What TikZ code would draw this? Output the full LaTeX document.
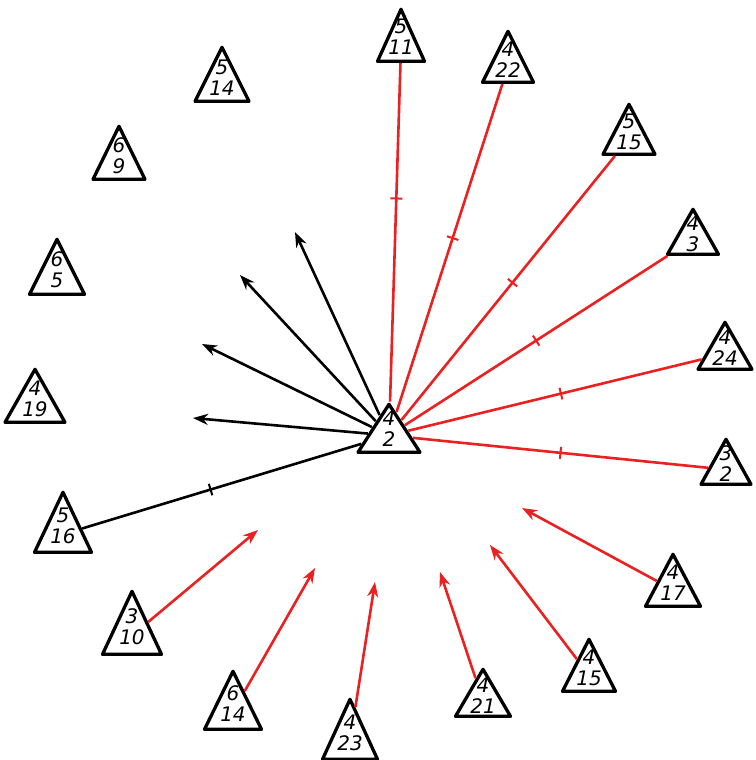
\documentclass[tikz,border=0pt]{standalone}
\usepackage{fontspec}
\usepackage{tikz}
\usetikzlibrary{shapes.geometric,arrows.meta,calc}
\newfontfamily\handfont{DejaVu Sans}
\definecolor{pen}{RGB}{235,32,32}
\tikzset{
 tri/.style 2 args={draw=black, line width=3.3pt, isosceles triangle, isosceles triangle stretches,
   shape border rotate=90, minimum width=#1, minimum height=#2, inner sep=0pt, line join=round, anchor=apex},
 num/.style={font=\handfont\itshape\fontsize{20}{21}\selectfont, align=center, inner sep=0pt},
 redline/.style={draw=pen, line width=2.6pt},
 blackline/.style={draw=black, line width=2.6pt},
 tip/.style={-{Stealth[length=15pt,width=11pt]}},
 redtick/.style={draw=pen, inner sep=0pt, minimum width=0pt, minimum height=12pt, line width=2pt},
 blacktick/.style={draw=black, inner sep=0pt, minimum width=0pt, minimum height=12pt, line width=2pt},
}
\begin{document}
\begin{tikzpicture}[x=1pt,y=-1pt]
\useasboundingbox (0,0) rectangle (755,760);
% triangles (apex positions)
\node[tri={62pt}{48pt}] (c42) at (389,400) {};
\node[tri={47pt}{52pt}] (t511) at (401,5) {};
\node[tri={51pt}{51pt}] (t422) at (508,27) {};
\node[tri={52pt}{50pt}] (t515) at (629,100) {};
\node[tri={51pt}{45pt}] (t43) at (693,205) {};
\node[tri={54pt}{47pt}] (t424) at (725,318) {};
\node[tri={50pt}{45pt}] (t32) at (726,435) {};
\node[tri={55pt}{52pt}] (t417) at (673,550) {};
\node[tri={53pt}{52pt}] (t415) at (589,635) {};
\node[tri={55pt}{47pt}] (t421) at (483,665) {};
\node[tri={55pt}{60pt}] (t423) at (350,695) {};
\node[tri={57pt}{58pt}] (t614) at (233,667) {};
\node[tri={59pt}{63pt}] (t310) at (132,587) {};
\node[tri={57pt}{60pt}] (t516) at (63,488) {};
\node[tri={60pt}{53pt}] (t419) at (35,365) {};
\node[tri={55pt}{55pt}] (t65) at (57,235) {};
\node[tri={52pt}{53pt}] (t69) at (119,122) {};
\node[tri={54pt}{54pt}] (t514) at (222,43) {};
% labels
\node[num] (lc42) at ($(c42.apex)+(0,29)$) {4\\2};
\node[num] (l511) at ($(t511.apex)+(0,32)$) {5\\11};
\node[num] (l422) at ($(t422.apex)+(0,33)$) {4\\22};
\node[num] (l515) at ($(t515.apex)+(0,32)$) {5\\15};
\node[num] (l43) at ($(t43.apex)+(0,29)$) {4\\3};
\node[num] (l424) at ($(t424.apex)+(0,30)$) {4\\24};
\node[num] (l32) at ($(t32.apex)+(0,29)$) {3\\2};
\node[num] (l417) at ($(t417.apex)+(0,33)$) {4\\17};
\node[num] (l415) at ($(t415.apex)+(0,33)$) {4\\15};
\node[num] (l421) at ($(t421.apex)+(0,31)$) {4\\21};
\node[num] (l423) at ($(t423.apex)+(0,38)$) {4\\23};
\node[num] (l614) at ($(t614.apex)+(0,37)$) {6\\14};
\node[num] (l310) at ($(t310.apex)+(0,40)$) {3\\10};
\node[num] (l516) at ($(t516.apex)+(0,38)$) {5\\16};
\node[num] (l419) at ($(t419.apex)+(0,34)$) {4\\19};
\node[num] (l65) at ($(t65.apex)+(0,35)$) {6\\5};
\node[num] (l69) at ($(t69.apex)+(0,34)$) {6\\9};
\node[num] (l514) at ($(t514.apex)+(0,35)$) {5\\14};
% free ends
\coordinate (b1) at (295,232);
\coordinate (b2) at (240,275);
\coordinate (b3) at (202,344);
\coordinate (b4) at (193,418);
\coordinate (r1) at (258,530);
\coordinate (r2) at (315,568);
\coordinate (r3) at (375,582);
\coordinate (r4) at (440,572);
\coordinate (r5) at (490,545);
\coordinate (r6) at (522,508);
% red outward lines with ticks
\draw[redline] (c42) -- (t511) node[pos=0.6, sloped, redtick] {};
\draw[redline] (c42) -- (t422) node[pos=0.53, sloped, redtick] {};
\draw[redline] (c42) -- (t515) node[pos=0.52, sloped, redtick] {};
\draw[redline] (c42) -- (t43) node[pos=0.5, sloped, redtick] {};
\draw[redline] (c42) -- (t424) node[pos=0.52, sloped, redtick] {};
\draw[redline] (c42) -- (t32) node[pos=0.5, sloped, redtick] {};
% black
\draw[blackline] (c42) -- (t516) node[pos=0.54, sloped, blacktick] {};
\draw[blackline, tip] (c42) -- (b1);
\draw[blackline, tip] (c42) -- (b2);
\draw[blackline, tip] (c42) -- (b3);
\draw[blackline, tip] (c42) -- (b4);
% red inward arrows
\draw[redline, tip] (t310) -- (r1);
\draw[redline, tip] (t614) -- (r2);
\draw[redline, tip] (t423) -- (r3);
\draw[redline, tip] (t421) -- (r4);
\draw[redline, tip] (t415) -- (r5);
\draw[redline, tip] (t417) -- (r6);
\end{tikzpicture}
\end{document}
